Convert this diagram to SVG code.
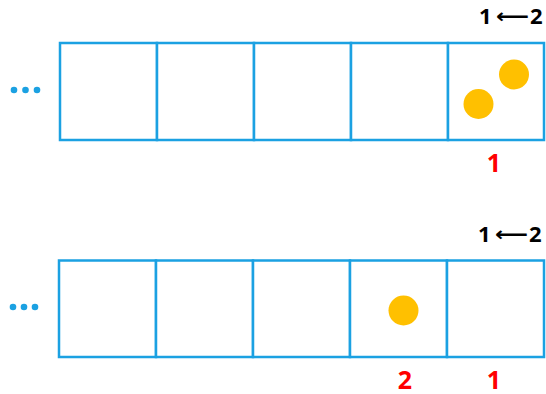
<svg xmlns="http://www.w3.org/2000/svg" width="546" height="394" viewBox="0 0 546 394">
<style>
.cell{fill:#fff;stroke:#1BA1E2;stroke-width:2.5}
.ball{fill:#FFC000}
.dot{fill:#1BA1E2}
.lbl{font-family:"Open Sans","Liberation Sans",sans-serif;font-weight:bold;font-size:22px;fill:#000}
.arr{font-family:"DejaVu Sans",sans-serif;font-weight:bold;font-size:20px;fill:#000}
.red{font-family:"Open Sans","Liberation Sans",sans-serif;font-weight:bold;font-size:25px;fill:#FF0000;text-anchor:middle}
</style>
<rect width="546" height="394" fill="#fff"/>
<g id="row1">
  <g id="dots1"><circle class="dot" cx="14" cy="90" r="3.3"/><circle class="dot" cx="25.5" cy="90" r="3.3"/><circle class="dot" cx="37" cy="90" r="3.3"/></g>
  <g id="r1c1"><rect class="cell" x="60" y="43" width="97" height="97"/></g>
  <g id="r1c2"><rect class="cell" x="157" y="43" width="97" height="97"/></g>
  <g id="r1c3"><rect class="cell" x="254" y="43" width="97" height="97"/></g>
  <g id="r1c4"><rect class="cell" x="351" y="43" width="97" height="97"/></g>
  <g id="r1c5"><rect class="cell" x="448" y="43" width="96" height="97"/></g>
  <circle class="ball" cx="514" cy="74.5" r="15"/>
  <circle class="ball" cx="478.5" cy="104" r="15"/>
  <text class="lbl" x="479" y="23.5">1</text>
  <text class="arr" x="496" y="22.5" textLength="33" lengthAdjust="spacingAndGlyphs">⟵</text>
  <text class="lbl" x="530" y="23.5">2</text>
  <text class="red" x="494" y="171.5">1</text>
</g>
<g id="row2">
  <g id="dots2"><circle class="dot" cx="13" cy="307" r="3.3"/><circle class="dot" cx="24" cy="307" r="3.3"/><circle class="dot" cx="35" cy="307" r="3.3"/></g>
  <g id="r2c1"><rect class="cell" x="59" y="260.5" width="97" height="96.5"/></g>
  <g id="r2c2"><rect class="cell" x="156" y="260.5" width="97" height="96.5"/></g>
  <g id="r2c3"><rect class="cell" x="253" y="260.5" width="97" height="96.5"/></g>
  <g id="r2c4"><rect class="cell" x="350" y="260.5" width="97" height="96.5"/></g>
  <g id="r2c5"><rect class="cell" x="447" y="260.5" width="97" height="96.5"/></g>
  <circle class="ball" cx="403.5" cy="310.5" r="15"/>
  <text class="lbl" x="478" y="241.5">1</text>
  <text class="arr" x="495" y="240.5" textLength="33" lengthAdjust="spacingAndGlyphs">⟵</text>
  <text class="lbl" x="529" y="241.5">2</text>
  <text class="red" x="405" y="388.5">2</text>
  <text class="red" x="494" y="388.5">1</text>
</g>
</svg>
